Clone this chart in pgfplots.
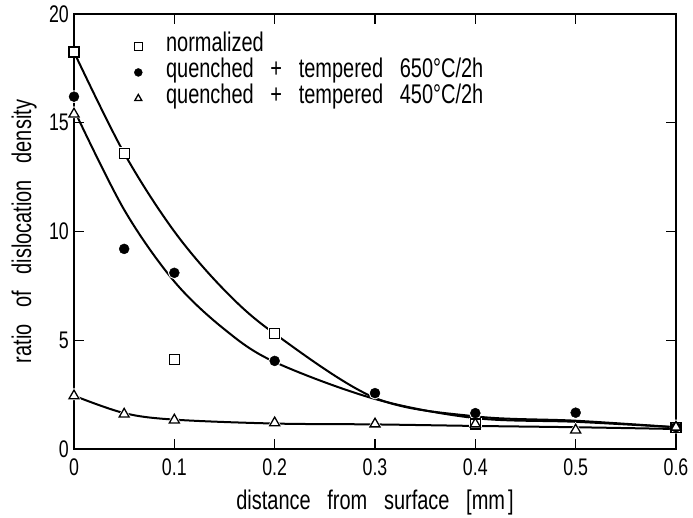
\documentclass[border=0pt]{standalone}
\usepackage{pgfplots}
\pgfplotsset{compat=1.18}
\usepackage{fontspec}
\setmainfont{Liberation Sans}[FakeStretch=0.74, WordSpace=3.0]
\newcommand{\lblfont}{\fontsize{27}{29}\selectfont}
\newcommand{\tckfont}{\fontsize{24}{26}\selectfont}
\begin{document}
\lblfont
\begin{tikzpicture}
\path[use as bounding box] (-74pt,-69pt) rectangle (619pt,449pt);
\begin{axis}[
  at={(0,0)}, anchor=south west,
  width=602pt, height=435pt, scale only axis,
  xmin=0, xmax=0.6, ymin=0, ymax=20,
  xtick={0,0.1,0.2,0.3,0.4,0.5,0.6},
  xticklabels={0,0.1,0.2,0.3,0.4,0.5,0.6},
  ytick={0,5,10,15,20},
  tick align=inside, major tick length=10pt,
  axis line style={line width=1.5pt},
  tick style={line width=1.2pt, black},
  clip=false,
  /pgf/number format/assume math mode=true,
  ticklabel style={font=\tckfont, inner sep=1pt},
  xticklabel style={yshift=-9pt},
  yticklabel style={xshift=-4pt},
  label style={font=\lblfont},
  xlabel={distance from surface [mm\hspace{3pt}]},
  ylabel={ratio of dislocation density},
  xlabel style={at={(axis description cs:0.5,-0.140)}, anchor=base},
  ylabel style={at={(axis description cs:-0.083,0.5)}, anchor=center},
  legend style={draw=none, fill=none, at={(axis cs:0.0552,19.0)}, anchor=north west,
    font=\lblfont, row sep=5pt, inner sep=0pt,
    nodes={text height=14pt, text depth=3pt, inner sep=2pt},
    /tikz/every odd column/.append style={column sep=17pt}},
  legend image code/.code={\path (0cm,-0.1cm) (0.6cm,0.1cm);
    \draw[mark repeat=2,mark phase=2,#1,mark size=4pt] plot coordinates {(0cm,0cm)(0.3cm,0cm)(0.6cm,0cm)};},
  legend cell align=left,
]
% fitted curves
\addplot[line width=2pt, smooth, tension=0.55, forget plot] coordinates {
 (0,18.25) (0.05,13.6) (0.1,10.0) (0.15,7.3) (0.2,5.3) (0.3,2.35) (0.4,1.5) (0.5,1.3) (0.6,1.0)};
\addplot[line width=2pt, smooth, tension=0.55, forget plot] coordinates {
 (0,15.6) (0.05,11.0) (0.1,7.7) (0.15,5.5) (0.2,4.0) (0.3,2.3) (0.4,1.42) (0.5,1.25) (0.6,1.0)};
\addplot[line width=2pt, smooth, tension=0.55, forget plot] coordinates {
 (0,2.45) (0.05,1.65) (0.1,1.35) (0.2,1.17) (0.3,1.13) (0.4,1.06) (0.5,1.0) (0.6,0.92)};
% white halos
\addplot[only marks, mark=square*, mark size=5pt, mark options={draw=white, fill=white, line width=2.5pt}, forget plot] coordinates {
 (0,18.25) (0.05,13.6) (0.1,4.1) (0.2,5.3) (0.4,1.15) (0.6,1.0)};
\addplot[only marks, mark=*, mark size=5pt, mark options={draw=white, fill=white, line width=2.5pt}, forget plot] coordinates {
 (0,16.2) (0.05,9.2) (0.1,8.1) (0.2,4.05) (0.3,2.57) (0.4,1.65) (0.5,1.67) (0.6,1.0)};
\addplot[only marks, mark=triangle*, mark size=5.8pt, mark options={draw=white, fill=white, line width=2.5pt}, forget plot] coordinates {
 (0,2.44) (0.05,1.6) (0.1,1.33) (0.2,1.2) (0.3,1.15) (0.4,1.15) (0.5,0.87) (0.6,1.0) (0,15.4)};
% markers
\addplot[only marks, mark=square*, mark size=5pt, mark options={draw=black, fill=white, line width=1.3pt}] coordinates {
 (0,18.25) (0.05,13.6) (0.1,4.1) (0.2,5.3) (0.4,1.15) (0.6,1.0)};
\addlegendentry{normalized}
\addplot[only marks, mark=*, mark size=5pt, mark options={draw=black, fill=black}] coordinates {
 (0,16.2) (0.05,9.2) (0.1,8.1) (0.2,4.05) (0.3,2.57) (0.4,1.65) (0.5,1.67) (0.6,1.0)};
\addlegendentry{quenched + tempered 650°C/2h}
\addplot[only marks, mark=triangle*, mark size=5.8pt, mark options={draw=black, fill=white, line width=1.3pt}] coordinates {
 (0,2.44) (0.05,1.6) (0.1,1.33) (0.2,1.2) (0.3,1.15) (0.4,1.15) (0.5,0.87) (0.6,1.0) (0,15.4)};
\addlegendentry{quenched + tempered 450°C/2h}
\end{axis}
\end{tikzpicture}
\end{document}
